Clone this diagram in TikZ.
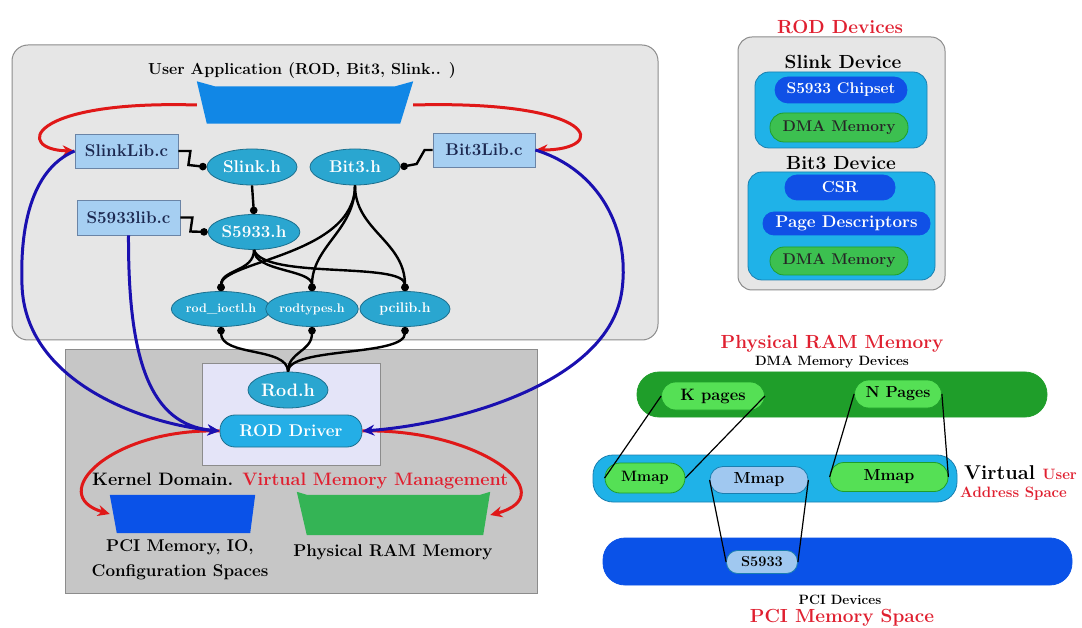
\documentclass[tikz,border=0pt]{standalone}
\usetikzlibrary{shapes.geometric,arrows.meta}
\definecolor{bgup}{HTML}{E6E6E6}
\definecolor{bgdraw}{HTML}{8C8C8C}
\definecolor{bglow}{HTML}{C6C6C6}
\definecolor{lav}{HTML}{E4E4F8}
\definecolor{hdrfill}{HTML}{2AA6D0}
\definecolor{hdrdraw}{HTML}{1C6F8E}
\definecolor{libfill}{HTML}{A6CFF2}
\definecolor{libdraw}{HTML}{6A84A6}
\definecolor{libtext}{HTML}{1C2850}
\definecolor{appblue}{HTML}{1187E6}
\definecolor{arrred}{HTML}{E01818}
\definecolor{arrblue}{HTML}{1A10B0}
\definecolor{drvfill}{HTML}{24AEE6}
\definecolor{pciblue}{HTML}{0A52E8}
\definecolor{ramgreen}{HTML}{34B455}
\definecolor{txtred}{HTML}{E02030}
\definecolor{cyanbox}{HTML}{1FB2E8}
\definecolor{cyandraw}{HTML}{1A7FB0}
\definecolor{pillblue}{HTML}{1050E6}
\definecolor{pillgreen}{HTML}{3CC050}
\definecolor{darkgreen}{HTML}{1F9E2A}
\definecolor{lightgreen}{HTML}{55E055}
\definecolor{lightblue}{HTML}{A0C8F0}
\newcommand{\fs}[1]{\fontsize{#1}{#1}\selectfont\bfseries}
\begin{document}
\begin{tikzpicture}[x=1pt,y=-1pt,
  hdr/.style={ellipse, fill=hdrfill, draw=hdrdraw, line width=0.8pt, text=white,
    font=\fs{17}, inner sep=0pt},
  lib/.style={rectangle, fill=libfill, draw=libdraw, line width=0.8pt, text=libtext,
    font=\fs{17}, minimum width=103, minimum height=34, inner sep=0pt},
  dep/.style={line width=2.4pt, black},
  dotend/.style={-{Circle[length=7.5pt]}},
  dotstart/.style={{Circle[length=7.5pt]}-},
  redarr/.style={draw=arrred, line width=3pt, -{Stealth[length=12pt,width=11pt]}},
  bluearr/.style={draw=arrblue, line width=3pt, -{Stealth[length=12pt,width=11pt]}},
  pill/.style={rectangle, rounded corners=11pt, inner sep=0pt, line width=0.8pt},
  lbl/.style={font=\fs{17}, inner sep=0pt},
  thin/.style={line width=1.2pt, black}
]
\useasboundingbox (0,0) rectangle (1082,628);
\fill[white] (0,0) rectangle (1082,628);

% ---------- left panel boxes ----------
\draw[fill=bgup, draw=bgdraw, line width=1pt, rounded corners=16pt] (12,45) rectangle (658,340);
\draw[fill=bglow, draw=bgdraw, line width=1pt] (65,350) rectangle (537,593);
\draw[fill=lav, draw=bgdraw, line width=0.8pt] (202,363) rectangle (380,465);

\node[font=\fs{16}, inner sep=0pt] (uatitle) at (302,71) {User Application (ROD, Bit3, Slink.. )};

% application trapezoid
\node[minimum width=216, minimum height=37, inner sep=0pt] (app) at (305,105) {};
\fill[appblue] ([yshift=5]app.north west) -- ([xshift=18]app.north west) -- ([xshift=-18]app.north east)
  -- ([yshift=5]app.north east) -- ([xshift=-13]app.south east) -- ([xshift=10]app.south west) -- cycle;

% library boxes
\node[lib] (slinklib) at (126.5,151) {SlinkLib.c};
\node[lib, minimum height=35] (s5933lib) at (128.5,217.5) {S5933lib.c};
\node[lib, minimum width=102] (bit3lib) at (484,150) {Bit3Lib.c};

% headers
\node[hdr, minimum width=90, minimum height=36] (slinkh) at (252,167) {Slink.h};
\node[hdr, minimum width=90, minimum height=36] (bit3h) at (355,167) {Bit3.h};
\node[hdr, minimum width=88, minimum height=35] (s5933h) at (254,232) {S5933.h};
\node[hdr, minimum width=88, minimum height=35, font=\fs{12.5}] (ioctl) at (221,309) {rod\_ioctl.h};
\node[hdr, minimum width=90, minimum height=35, font=\fs{12.5}] (types) at (312,309) {rodtypes.h};
\node[hdr, minimum width=90, minimum height=35, font=\fs{14}] (pcilib) at (405,309) {pcilib.h};
\node[hdr, minimum width=80, minimum height=36, font=\fs{18}] (rodh) at (288,390) {Rod.h};
\node[pill, rounded corners=15pt, fill=drvfill, draw=hdrdraw, text=white, minimum width=142, minimum height=32,
  font=\fs{17}] (roddrv) at (291,431) {ROD Driver};

% dependency connectors
\draw[dep,dotend] (slinklib.east) -- ++(12,0) -- ++(-2,14) -- (slinkh.west);
\draw[dep,dotend] (s5933lib.east) -- ++(12,0) -- ++(-2,14) -- (s5933h.west);
\draw[dep,dotend] (bit3lib.west) -- ++(-8,0) -- ++(-8,14) -- (bit3h.east);
\draw[dep,dotend] (slinkh.south) -- (s5933h.north);
\draw[dep,dotend] (s5933h.south) .. controls +(0,22) and +(0,-22) .. (ioctl.north);
\draw[dep,dotend] (s5933h.south) .. controls +(0,22) and +(0,-22) .. (types.north);
\draw[dep,dotend] (s5933h.south) .. controls +(10,30) and +(0,-30) .. (pcilib.north);
\draw[dep,dotend] (bit3h.south) .. controls +(0,70) and +(0,-30) .. (ioctl.north);
\draw[dep,dotend] (bit3h.south) .. controls +(0,45) and +(0,-45) .. (types.north);
\draw[dep,dotend] (bit3h.south) .. controls +(0,45) and +(0,-50) .. (pcilib.north);
\draw[dep,dotstart] (ioctl.south) .. controls +(0,30) and +(0,-25) .. (rodh.north);
\draw[dep,dotstart] (types.south) .. controls +(0,25) and +(0,-20) .. (rodh.north);
\draw[dep,dotstart] (pcilib.south) .. controls +(0,30) and +(0,-25) .. (rodh.north);

% lower trapezoids
\node[minimum width=145, minimum height=38, inner sep=0pt] (pcimem) at (182.5,514) {};
\fill[pciblue] (pcimem.north west) -- (pcimem.north east) -- ([xshift=-5]pcimem.south east) -- ([xshift=7]pcimem.south west) -- cycle;
\node[minimum width=193, minimum height=40, inner sep=0pt] (rammem) at (393.5,515) {};
\fill[ramgreen] ([yshift=3]rammem.north west) -- ([xshift=10]rammem.north west) -- ([xshift=-10]rammem.north east)
  -- ([yshift=3]rammem.north east) -- ([xshift=-7]rammem.south east) -- ([xshift=10]rammem.south west) -- cycle;

\node[font=\fs{18}, inner sep=0pt, anchor=west] (kd) at (92,481) {Kernel Domain. \textcolor{txtred}{Virtual Memory Management}};
\node[lbl, align=center, font=\fontsize{17}{25}\selectfont\bfseries] (pcilbl) at (180,560) {PCI Memory, IO,\\Configuration Spaces};
\node[lbl] (ramlbl) at (393,552) {Physical RAM Memory};

% red arrows
\draw[redarr] (app.west) .. controls (25,100) and (15,150) .. (slinklib.west);
\draw[redarr] (app.east) .. controls (600,100) and (610,150) .. (bit3lib.east);
\draw[redarr] (roddrv.west) .. controls (110,428) and (45,495) .. (pcimem.west);
\draw[redarr] (roddrv.east) .. controls (480,428) and (565,495) .. (rammem.east);

% blue arrows
\draw[bluearr] (slinklib.west) .. controls (30,170) and (20,230) .. (22,285) .. controls (25,385) and (150,425) .. (roddrv.west);
\draw[bluearr] (s5933lib.south) .. controls (128,360) and (150,425) .. (roddrv.west);
\draw[bluearr] (bit3lib.east) .. controls (600,170) and (630,230) .. (622,290) .. controls (610,385) and (450,425) .. (roddrv.east);

% ---------- ROD devices panel ----------
\node[font=\fs{19}, text=txtred, inner sep=0pt] (rodtitle) at (840,27) {ROD Devices};
\draw[fill=bgup, draw=bgdraw, line width=1pt, rounded corners=14pt] (738,37) rectangle (945,290);
\node[font=\fs{19}, inner sep=0pt] (slinkdev) at (843,62) {Slink Device};
\draw[fill=cyanbox, draw=cyandraw, line width=0.8pt, rounded corners=14pt] (755,72) rectangle (927,148);
\node[pill, rounded corners=13pt, fill=pillblue, draw=pillblue, text=white, minimum width=132, minimum height=26,
  font=\fs{15.5}] (chip) at (841,90) {S5933 Chipset};
\node[pill, rounded corners=14pt, fill=pillgreen, draw=darkgreen, text=black!85, minimum width=138, minimum height=29,
  font=\fs{15.5}] (dma1) at (839,127.5) {DMA Memory};
\node[font=\fs{19}, inner sep=0pt] (bit3dev) at (841,163) {Bit3 Device};
\draw[fill=cyanbox, draw=cyandraw, line width=0.8pt, rounded corners=14pt] (748,172) rectangle (935,280);
\node[pill, rounded corners=12pt, fill=pillblue, draw=pillblue, text=white, minimum width=110, minimum height=25,
  font=\fs{16}] (csr) at (840,187.5) {CSR};
\node[pill, rounded corners=11pt, fill=pillblue, draw=pillblue, text=white, minimum width=167, minimum height=23,
  font=\fs{17}] (pdesc) at (846.5,223.5) {Page Descriptors};
\node[pill, rounded corners=14pt, fill=pillgreen, draw=darkgreen, text=black!85, minimum width=138, minimum height=28,
  font=\fs{15.5}] (dma2) at (839,261) {DMA Memory};

% ---------- memory mapping panel ----------
\node[font=\fs{19}, text=txtred, inner sep=0pt] (physt) at (832,344) {Physical RAM Memory};
\node[font=\fs{13.5}, inner sep=0pt] (dmadev) at (832,362) {DMA Memory Devices};
\node[pill, rounded corners=22pt, fill=darkgreen, draw=darkgreen, minimum width=410, minimum height=45] (ramband) at (842,394.5) {};
\node[pill, rounded corners=14pt, fill=lightgreen, draw=darkgreen, minimum width=103, minimum height=28,
  font=\fs{16.5}] (kpages) at (713,396) {K pages};
\node[pill, rounded corners=14pt, fill=lightgreen, draw=darkgreen, minimum width=87, minimum height=28,
  font=\fs{16}] (npages) at (898,394) {N Pages};
\node[pill, rounded corners=20pt, fill=cyanbox, draw=cyandraw, minimum width=364, minimum height=47] (vband) at (775,478.5) {};
\node[pill, rounded corners=15pt, fill=lightgreen, draw=darkgreen, minimum width=80, minimum height=30,
  font=\fs{15}] (mmap1) at (645,478) {Mmap};
\node[pill, rounded corners=13pt, fill=lightblue, draw=cyandraw, minimum width=98, minimum height=27,
  font=\fs{16}] (mmap2) at (759,480) {Mmap};
\node[pill, rounded corners=14pt, fill=lightgreen, draw=darkgreen, minimum width=118, minimum height=29,
  font=\fs{16}] (mmap3) at (889,477) {Mmap};
\node[font=\fs{20}, anchor=west, inner sep=0pt] (virt) at (964,473)
  {Virtual \textcolor{txtred}{\fs{15}User}};
\node[font=\fs{15}, text=txtred, anchor=west, inner sep=0pt] (addr) at (960,494) {Address Space};
\node[pill, rounded corners=22pt, fill=pciblue, draw=pciblue, minimum width=469, minimum height=47] (pciband) at (837.5,561.5) {};
\node[pill, rounded corners=11pt, fill=lightblue, draw=cyandraw, minimum width=71, minimum height=23,
  font=\fs{14.5}] (s5933dev) at (762,562) {S5933};
\node[font=\fs{13.5}, inner sep=0pt] (pcidev) at (840,600) {PCI Devices};
\node[font=\fs{19}, text=txtred, inner sep=0pt] (pcispace) at (842,618) {PCI Memory Space};

\draw[thin] (kpages.west) -- (mmap1.west);
\draw[thin] (kpages.east) -- (mmap1.east);
\draw[thin] (npages.west) -- (mmap3.west);
\draw[thin] (npages.east) -- (mmap3.east);
\draw[thin] (mmap2.west) -- (s5933dev.west);
\draw[thin] (mmap2.east) -- (s5933dev.east);
\end{tikzpicture}
\end{document}
